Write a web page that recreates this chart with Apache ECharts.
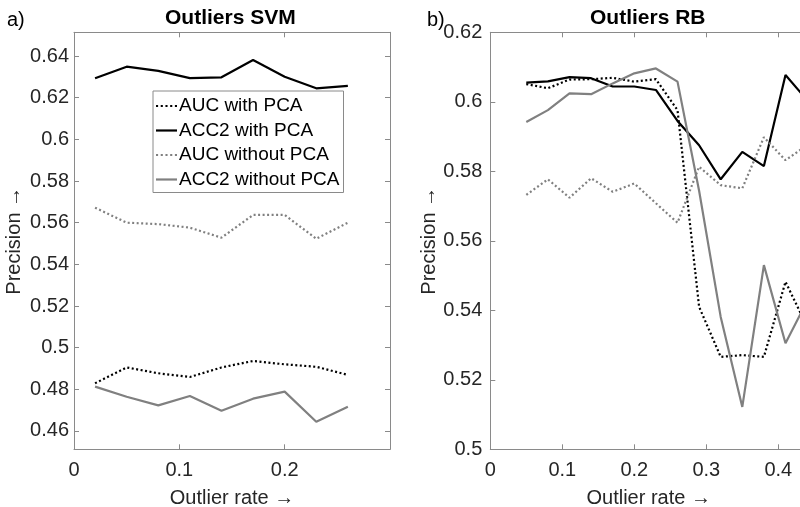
<!DOCTYPE html>
<html>
<head>
<meta charset="utf-8">
<script src="https://cdn.jsdelivr.net/npm/echarts@6/dist/echarts.min.js"></script>
<style>
  html, body { margin: 0; padding: 0; background: #fff; }
  #chart { width: 800px; height: 507px; }
</style>
</head>
<body>
<div id="chart"></div>
<script>
// Panel a) – SVM outlier detection
const svmRate = [0.02, 0.05, 0.08, 0.11, 0.14, 0.17, 0.20, 0.23, 0.26];
const svmAucPca   = [0.4829, 0.4905, 0.4877, 0.4859, 0.4905, 0.4936, 0.4920, 0.4908, 0.4869];
const svmAccPca   = [0.6293, 0.6349, 0.6329, 0.6294, 0.6298, 0.6381, 0.6301, 0.6245, 0.6257];
const svmAucNoPca = [0.5672, 0.5600, 0.5593, 0.5576, 0.5528, 0.5637, 0.5637, 0.5523, 0.5600];
const svmAccNoPca = [0.4813, 0.4764, 0.4723, 0.4768, 0.4697, 0.4755, 0.4789, 0.4644, 0.4716];

// Panel b) – RB outlier detection
const rbRate = [0.05, 0.08, 0.11, 0.14, 0.17, 0.20, 0.23, 0.26, 0.29, 0.32, 0.35, 0.38, 0.41, 0.44];
const rbAucPca   = [0.6051, 0.6039, 0.6064, 0.6065, 0.6069, 0.6058, 0.6065, 0.5976, 0.5410, 0.5266, 0.5271, 0.5266, 0.5482, 0.5353];
const rbAccPca   = [0.6055, 0.6059, 0.6071, 0.6068, 0.6044, 0.6044, 0.6034, 0.5945, 0.5875, 0.5777, 0.5856, 0.5815, 0.6077, 0.6005];
const rbAucNoPca = [0.5732, 0.5777, 0.5724, 0.5780, 0.5741, 0.5765, 0.5708, 0.5652, 0.5813, 0.5760, 0.5751, 0.5898, 0.5832, 0.5875];
const rbAccNoPca = [0.5942, 0.5976, 0.6024, 0.6022, 0.6053, 0.6082, 0.6096, 0.6058, 0.5744, 0.5381, 0.5122, 0.5530, 0.5305, 0.5427];

const seriesNames = ['AUC with PCA', 'ACC2 with PCA', 'AUC without PCA', 'ACC2 without PCA'];
const panelTitles = ['Outliers SVM', 'Outliers RB'];
const panelTags = ['a)', 'b)'];
const xName = 'Outlier rate \u2192';
const yName = 'Precision \u2192';

const FONT = '"Liberation Sans", Arial, Helvetica, sans-serif';
const TEXT = '#262626';
const AXIS = '#8a8a8a';
const BLACK = '#000000';
const GREY = '#808080';
const DOT = [2, 2.5];

// Legend glyphs: a dotted and a solid stroke sample
const ICON_DOTTED = 'path://M0,0h2v2h-2z M4.5,0h2v2h-2z M9,0h2v2h-2z M13.5,0h2v2h-2z M18,0h2v2h-2z';
const ICON_SOLID = 'path://M0,0h20v2h-20z';

const pairs = (xs, ys) => xs.map((x, i) => [x, ys[i]]);

const styles = [
  { color: BLACK, type: DOT, icon: ICON_DOTTED },
  { color: BLACK, type: 'solid', icon: ICON_SOLID },
  { color: GREY, type: DOT, icon: ICON_DOTTED },
  { color: GREY, type: 'solid', icon: ICON_SOLID }
];

function lineSeries(k, xs, ys, xi, yi) {
  return {
    name: seriesNames[k],
    type: 'line',
    xAxisIndex: xi,
    yAxisIndex: yi,
    data: pairs(xs, ys),
    symbol: 'none',
    showSymbol: false,
    silent: true,
    z: 3,
    lineStyle: { color: styles[k].color, width: 2.2, type: styles[k].type },
    itemStyle: { color: styles[k].color }
  };
}

function bottomX(grid, max) {
  return {
    type: 'value', gridIndex: grid, position: 'bottom', min: 0, max: max, interval: 0.1,
    name: xName, nameLocation: 'middle', nameGap: 39,
    nameTextStyle: { fontFamily: FONT, fontSize: 20, color: TEXT },
    axisLine: { show: true, onZero: false, lineStyle: { color: AXIS, width: 1 } },
    axisTick: { show: true, inside: true, length: 5, lineStyle: { color: AXIS } },
    axisLabel: { show: true, margin: 11, fontFamily: FONT, fontSize: 20, color: TEXT, showMaxLabel: false },
    splitLine: { show: false }
  };
}
function topX(grid, max) {
  return {
    type: 'value', gridIndex: grid, position: 'top', min: 0, max: max, interval: 0.1,
    axisLine: { show: true, onZero: false, lineStyle: { color: AXIS, width: 1 } },
    axisTick: { show: true, inside: true, length: 5, lineStyle: { color: AXIS } },
    axisLabel: { show: false },
    splitLine: { show: false }
  };
}

const yLabel = { show: true, fontFamily: FONT, fontSize: 20, color: TEXT };

const option = {
  animation: false,
  backgroundColor: '#ffffff',
  textStyle: { fontFamily: FONT },
  grid: [
    { left: 74, top: 32.3, width: 316, height: 417, containLabel: false, outerBoundsMode: 'none' },
    { left: 490.3, top: 32.3, width: 316.8, height: 417, containLabel: false, outerBoundsMode: 'none' }
  ],
  xAxis: [
    bottomX(0, 0.3),
    topX(0, 0.3),
    bottomX(1, 0.44),
    topX(1, 0.44)
  ],
  yAxis: [
    {
      type: 'value', gridIndex: 0, position: 'left', min: 0.4512, max: 0.6514, splitNumber: 10,
      name: yName, nameLocation: 'middle', nameGap: 50,
      nameTextStyle: { fontFamily: FONT, fontSize: 20, color: TEXT },
      axisLine: { show: true, onZero: false, lineStyle: { color: AXIS, width: 1 } },
      axisTick: { show: true, inside: true, length: 5, lineStyle: { color: AXIS } },
      axisLabel: Object.assign({ margin: 5, showMinLabel: false, showMaxLabel: false }, yLabel),
      splitLine: { show: false }
    },
    {
      type: 'value', gridIndex: 0, position: 'right', min: 0.4512, max: 0.6514, splitNumber: 10,
      axisLine: { show: true, onZero: false, lineStyle: { color: AXIS, width: 1 } },
      axisTick: { show: true, inside: true, length: 5, lineStyle: { color: AXIS } },
      axisLabel: { show: false },
      splitLine: { show: false }
    },
    {
      type: 'value', gridIndex: 1, position: 'left', min: 0.5, max: 0.62, interval: 0.02,
      name: yName, nameLocation: 'middle', nameGap: 50,
      nameTextStyle: { fontFamily: FONT, fontSize: 20, color: TEXT },
      axisLine: { show: true, onZero: false, lineStyle: { color: AXIS, width: 1 } },
      axisTick: { show: true, inside: true, length: 5, lineStyle: { color: AXIS } },
      axisLabel: Object.assign({ margin: 8 }, yLabel),
      splitLine: { show: false }
    },
    {
      type: 'value', gridIndex: 1, position: 'right', min: 0.5, max: 0.62, interval: 0.02,
      axisLine: { show: true, onZero: false, lineStyle: { color: AXIS, width: 1 } },
      axisTick: { show: true, inside: true, length: 5, lineStyle: { color: AXIS } },
      axisLabel: { show: false },
      splitLine: { show: false }
    }
  ],
  legend: {
    data: seriesNames.map((n, k) => ({ name: n, icon: styles[k].icon, itemStyle: { color: styles[k].color } })),
    orient: 'vertical',
    left: 153,
    top: 91,
    padding: [5, 4, 3, 3],
    itemWidth: 21,
    itemHeight: 2.2,
    itemGap: 4.5,
    symbolKeepAspect: false,
    selectedMode: false,
    backgroundColor: '#ffffff',
    borderColor: AXIS,
    borderWidth: 1,
    borderRadius: 0,
    textStyle: { fontFamily: FONT, fontSize: 19, color: BLACK, padding: [0, 0, 0, -3], lineHeight: 20 },
    z: 10
  },
  graphic: [
    { type: 'text', left: 232 - 67, top: 8, style: { text: panelTitles[0], font: 'bold 21px ' + FONT, fill: BLACK } },
    { type: 'text', left: 649 - 59, top: 8, style: { text: panelTitles[1], font: 'bold 21px ' + FONT, fill: BLACK } },
    { type: 'text', left: 7, top: 10, style: { text: panelTags[0], font: '20px ' + FONT, fill: BLACK } },
    { type: 'text', left: 427, top: 10, style: { text: panelTags[1], font: '20px ' + FONT, fill: BLACK } }
  ],
  series: [
    lineSeries(0, svmRate, svmAucPca, 0, 0),
    lineSeries(1, svmRate, svmAccPca, 0, 0),
    lineSeries(2, svmRate, svmAucNoPca, 0, 0),
    lineSeries(3, svmRate, svmAccNoPca, 0, 0),
    lineSeries(0, rbRate, rbAucPca, 2, 2),
    lineSeries(1, rbRate, rbAccPca, 2, 2),
    lineSeries(2, rbRate, rbAucNoPca, 2, 2),
    lineSeries(3, rbRate, rbAccNoPca, 2, 2)
  ]
};

const chart = echarts.init(document.getElementById('chart'), null, { renderer: 'canvas' });
chart.setOption(option);
</script>
</body>
</html>
